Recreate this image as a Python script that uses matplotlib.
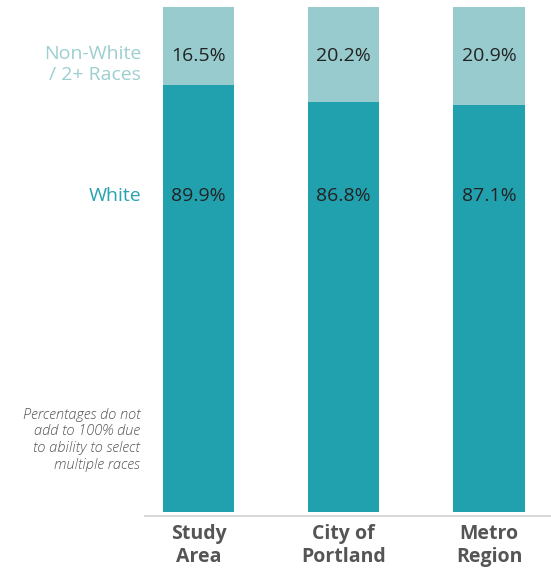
import matplotlib
matplotlib.use("Agg")
import matplotlib.pyplot as plt
from matplotlib.font_manager import FontProperties
import matplotlib.transforms as mtransforms
import numpy as np
import os

categories = ["Study\nArea", "City of\nPortland", "Metro\nRegion"]
white = [89.9, 86.8, 87.1]
non_white = [16.5, 20.2, 20.9]
series_labels = ["White", "Non-White\n/ 2+ Races"]
note = "Percentages do not\nadd to 100% due\nto ability to select\nmultiple races"

dark = "#21A0AE"
light = "#97CBCD"

plt.rcParams['font.family'] = ['Open Sans', 'DejaVu Sans']
FD = "/usr/share/fonts/truetype/open-sans/"

def fp(name, size, **kw):
    path = FD + name
    if os.path.exists(path):
        return FontProperties(fname=path, size=size)
    return FontProperties(family='Open Sans', size=size, **kw)

f_reg = fp("OpenSans-Regular.ttf", 14)
f_lab = fp("OpenSans-Regular.ttf", 14)
f_bold = fp("OpenSans-Bold.ttf", 14, weight='bold')
f_note = fp("OpenSans-LightItalic.ttf", 10.5, style='italic', weight='light')

fig = plt.figure(figsize=(5.51, 5.72), dpi=100)
ax = fig.add_axes([145/551, 60/572, 405/551, 505/572])

w = np.array(white)
n = np.array(non_white)
tot = w + n
wf = w / tot
nf = n / tot
x = np.arange(len(categories))
bw = 0.49
ax.bar(x, wf, width=bw, color=dark, linewidth=0)
ax.bar(x, nf, bottom=wf, width=bw, color=light, linewidth=0)

for xi, wv, nv in zip(x, white, non_white):
    ax.text(xi, 0.626, f"{wv:.1f}%", ha='center', va='center', fontproperties=f_reg, color='#222222')
    ax.text(xi, 0.903, f"{nv:.1f}%", ha='center', va='center', fontproperties=f_reg, color='#222222')

ax.text(-0.01, 0.626, series_labels[0], transform=ax.transAxes, ha='right', va='center',
        fontproperties=f_lab, color='#2AA3B0')
ax.text(-0.01, 0.886, series_labels[1], transform=ax.transAxes, ha='right', va='center',
        fontproperties=f_lab, color='#9DCFD1', linespacing=1.25)
ax.text(-0.012, 0.143, note, transform=ax.transAxes, ha='right', va='center',
        fontproperties=f_note, color='#555555', linespacing=1.25)

ax.set_xlim(-0.368, 2.42)
ax.set_ylim(0, 1)
ax.set_xticks([])
ax.set_yticks([])
trans = mtransforms.blended_transform_factory(ax.transData, ax.transAxes)
for xi, lab in zip(x, categories):
    ax.text(xi, -0.023, lab, transform=trans, ha='center', va='top',
            fontproperties=f_bold, color='#555555', linespacing=1.2)
for s in ['top', 'right', 'left']:
    ax.spines[s].set_visible(False)
ax.spines['bottom'].set_position(('outward', 3))
ax.spines['bottom'].set_color('#D9D9D9')
ax.spines['bottom'].set_linewidth(1.5)

fig.savefig("out.png", dpi=100)
